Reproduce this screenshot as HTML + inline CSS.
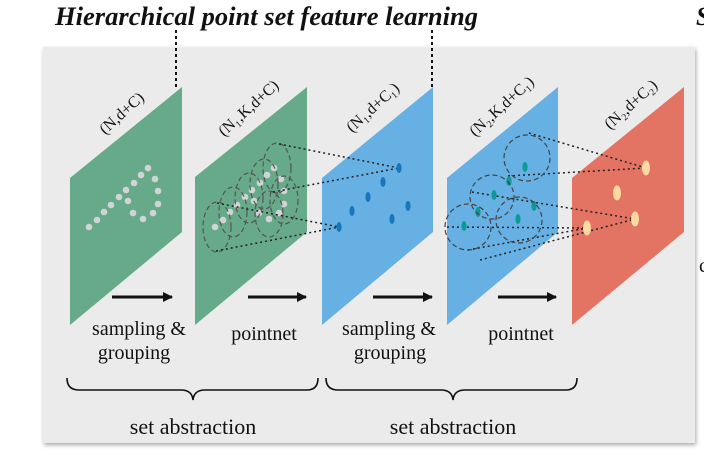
<!DOCTYPE html>
<html><head><style>
html,body{margin:0;padding:0;background:#fff;}
svg{display:block;}
text{font-family:"Liberation Serif",serif;fill:#111;}
</style></head><body>
<svg width="704" height="476" viewBox="0 0 704 476" xmlns="http://www.w3.org/2000/svg">
<defs>
<filter id="sh" x="-5%" y="-5%" width="110%" height="110%"><feGaussianBlur in="SourceAlpha" stdDeviation="2"/><feOffset dx="1" dy="2"/><feComponentTransfer><feFuncA type="linear" slope="0.35"/></feComponentTransfer><feMerge><feMergeNode/><feMergeNode in="SourceGraphic"/></feMerge></filter>
<marker id="ar" markerWidth="10" markerHeight="10" refX="9" refY="5" orient="auto" markerUnits="userSpaceOnUse"><path d="M0,0 L10,5 L0,10 z" fill="#111"/></marker>
</defs>
<text x="55" y="25" font-size="26" font-weight="bold" font-style="italic" textLength="423" lengthAdjust="spacingAndGlyphs">Hierarchical point set feature learning</text>
<text x="696" y="25" font-size="26" font-weight="bold" font-style="italic">S</text>
<rect x="43" y="47" width="652" height="396" fill="#ebebeb" filter="url(#sh)"/>
<text x="699" y="272" font-size="20">c</text>
<line x1="176" y1="30" x2="176" y2="88" stroke="#111" stroke-width="2" stroke-dasharray="3,3"/>
<line x1="432" y1="30" x2="432" y2="88" stroke="#111" stroke-width="2" stroke-dasharray="3,3"/>
<polygon points="70,178 182,87 182,232 70,325" fill="#67aa89"/>
<polygon points="195,177 307,87 307,232 195,325" fill="#67aa89"/>
<polygon points="322,178 433,87 433,232 322,325" fill="#67b0e3"/>
<polygon points="447,178 558,87 558,232 447,325" fill="#67b0e3"/>
<polygon points="572,178 684,87 684,232 572,325" fill="#e37463"/>
<g font-size="16">
<text transform="translate(105,135) rotate(-42)">(N,d+C)</text>
<text transform="translate(224,137) rotate(-42)">(N₁,K,d+C)</text>
<text transform="translate(352,133) rotate(-42)">(N₁,d+C₁)</text>
<text transform="translate(475,137) rotate(-42)">(N₂,K,d+C₁)</text>
<text transform="translate(610,130) rotate(-42)">(N₂,d+C₂)</text>
</g>
<g fill="#d0d4d6">
<circle cx="89" cy="227" r="3.3"/><circle cx="97" cy="220" r="3.3"/><circle cx="104" cy="212" r="3.3"/><circle cx="111" cy="205" r="3.3"/><circle cx="119" cy="197" r="3.3"/><circle cx="126" cy="190" r="3.3"/><circle cx="134" cy="183" r="3.3"/><circle cx="141" cy="175" r="3.3"/><circle cx="148" cy="168" r="3.3"/><circle cx="155" cy="179" r="3.3"/><circle cx="158" cy="191" r="3.3"/><circle cx="158" cy="204" r="3.3"/><circle cx="153" cy="213" r="3.3"/><circle cx="143" cy="219" r="3.3"/><circle cx="133" cy="213" r="3.3"/><circle cx="128" cy="201" r="3.3"/>
</g>
<g fill="#d0d4d6" transform="translate(126,0)">
<circle cx="89" cy="227" r="3.3"/><circle cx="97" cy="220" r="3.3"/><circle cx="104" cy="212" r="3.3"/><circle cx="111" cy="205" r="3.3"/><circle cx="119" cy="197" r="3.3"/><circle cx="126" cy="190" r="3.3"/><circle cx="134" cy="183" r="3.3"/><circle cx="141" cy="175" r="3.3"/><circle cx="148" cy="168" r="3.3"/><circle cx="155" cy="179" r="3.3"/><circle cx="158" cy="191" r="3.3"/><circle cx="158" cy="204" r="3.3"/><circle cx="153" cy="213" r="3.3"/><circle cx="143" cy="219" r="3.3"/><circle cx="133" cy="213" r="3.3"/><circle cx="128" cy="201" r="3.3"/>
</g>
<g fill="none" stroke="#555" stroke-width="1.2" stroke-dasharray="5,3">
<ellipse cx="217" cy="227" rx="14" ry="25"/>
<ellipse cx="233" cy="212" rx="14" ry="25"/>
<ellipse cx="249" cy="198" rx="14" ry="25"/>
<ellipse cx="264" cy="184" rx="14" ry="25"/>
<ellipse cx="277" cy="168" rx="14" ry="25"/>
<ellipse cx="284" cy="200" rx="14" ry="24"/>
<ellipse cx="269" cy="214" rx="14" ry="23"/>
</g>
<g stroke="#222" stroke-width="1.5" stroke-dasharray="2,3" fill="none">
<line x1="279" y1="144" x2="399" y2="168"/>
<line x1="273" y1="192" x2="399" y2="168"/>
<line x1="217" y1="203" x2="339" y2="227"/>
<line x1="216" y1="251" x2="339" y2="227"/>
<line x1="529" y1="133" x2="646" y2="168"/>
<line x1="508" y1="176" x2="646" y2="168"/>
<line x1="472" y1="192" x2="635" y2="219"/>
<line x1="480" y1="260" x2="635" y2="219"/>
<line x1="447" y1="227" x2="587" y2="228"/>
<line x1="468" y1="250" x2="587" y2="228"/>
</g>
<g fill="#1577bd">
<ellipse cx="399" cy="168" rx="2.6" ry="5"/><ellipse cx="383" cy="182" rx="2.6" ry="5"/><ellipse cx="368" cy="197" rx="2.6" ry="5"/><ellipse cx="352" cy="211" rx="2.6" ry="5"/><ellipse cx="339" cy="227" rx="2.6" ry="5"/><ellipse cx="408" cy="206" rx="2.6" ry="5"/><ellipse cx="392" cy="219" rx="2.6" ry="5"/>
</g>
<g fill="#0e9996">
<ellipse cx="525" cy="167" rx="2.6" ry="5"/><ellipse cx="509" cy="181" rx="2.6" ry="5"/><ellipse cx="494" cy="195" rx="2.6" ry="5"/><ellipse cx="478" cy="212" rx="2.6" ry="5"/><ellipse cx="464" cy="226" rx="2.6" ry="5"/><ellipse cx="534" cy="206" rx="2.6" ry="5"/><ellipse cx="518" cy="219" rx="2.6" ry="5"/>
</g>
<g fill="none" stroke="#444" stroke-width="1.2" stroke-dasharray="5,3">
<circle cx="527" cy="158" r="23"/>
<circle cx="492" cy="197" r="22"/>
<circle cx="468" cy="227" r="23"/>
<circle cx="519" cy="220" r="23"/>
</g>
<g fill="#fdd9a2">
<ellipse cx="646" cy="168" rx="4" ry="7.5"/><ellipse cx="617" cy="193" rx="4" ry="7.5"/><ellipse cx="635" cy="219" rx="4" ry="7.5"/><ellipse cx="587" cy="228" rx="4" ry="7.5"/>
</g>
<g stroke="#111" stroke-width="3" marker-end="url(#ar)">
<line x1="112" y1="297" x2="172" y2="297"/>
<line x1="248" y1="297" x2="306" y2="297"/>
<line x1="373" y1="297" x2="432" y2="297"/>
<line x1="498" y1="297" x2="556" y2="297"/>
</g>
<g font-size="20" text-anchor="middle">
<text x="139" y="335">sampling &amp;</text>
<text x="134" y="359">grouping</text>
<text x="264" y="340">pointnet</text>
<text x="389" y="335">sampling &amp;</text>
<text x="390" y="359">grouping</text>
<text x="521" y="340">pointnet</text>
</g>
<g font-size="22" text-anchor="middle">
<text x="193" y="434">set abstraction</text>
<text x="453" y="434">set abstraction</text>
</g>
<g fill="none" stroke="#111" stroke-width="1.6">
<path d="M67,378 Q67,390 79,390 L181,390 Q192,390 193,400 Q194,390 205,390 L307,390 Q318,390 318,378"/>
<path d="M326,378 Q326,390 338,390 L441,390 Q452,390 453,400 Q454,390 465,390 L566,390 Q577,390 577,378"/>
</g>
</svg>
</body></html>
